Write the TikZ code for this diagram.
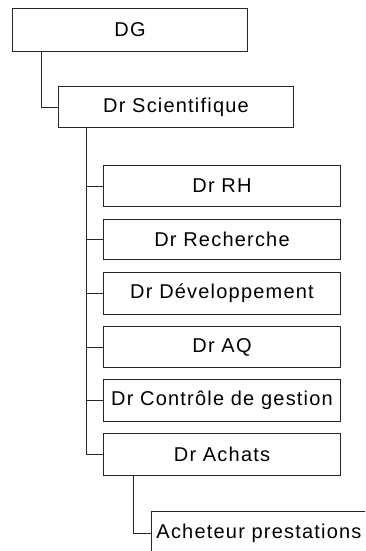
\documentclass[tikz,border=0pt]{standalone}
\usepackage{fontspec}
\setmainfont{Liberation Sans}[LetterSpace=6]
\begin{document}
\begin{tikzpicture}[x=1pt,y=-1pt,
  box/.style={draw=black!85, line width=1pt, anchor=north west, inner sep=0pt,
    minimum width=237pt, minimum height=41pt,
    font=\fontsize{20}{22}\selectfont},
  link/.style={draw=black!85, line width=1pt}]
\useasboundingbox (0,0) rectangle (365,551);
\clip (0,0) rectangle (365,551);
\node[box, minimum height=43pt, minimum width=235pt] (dg) at (12,8) {DG};
\node[box, minimum width=235pt] (sci) at (58,86) {Dr Scientifique};
\node[box] (rh) at (103,165) {Dr RH};
\node[box, minimum height=40pt] (rech) at (103,219) {Dr Recherche};
\node[box, minimum height=42pt] (dev) at (103,272) {Dr Développement};
\node[box] (aq) at (103,326) {Dr AQ};
\node[box, minimum height=42pt] (cg) at (103,379) {Dr Contrôle de gestion};
\node[box, minimum height=42pt] (ach) at (103,433) {Dr Achats};
\node[box, minimum width=215pt, minimum height=44pt] (acp) at (151,511) {Acheteur prestations};
\coordinate (dgd) at (41,51);
\coordinate (scid) at (86,127);
\coordinate (achd) at (133,475);
\draw[link] (dgd) |- (sci.west);
\draw[link] (scid) |- (ach.west);
\foreach \n in {rh,rech,dev,aq,cg}{
  \draw[link] (scid |- \n.west) -- (\n.west);
}
\draw[link] (achd) |- (acp.west);
\end{tikzpicture}
\end{document}
